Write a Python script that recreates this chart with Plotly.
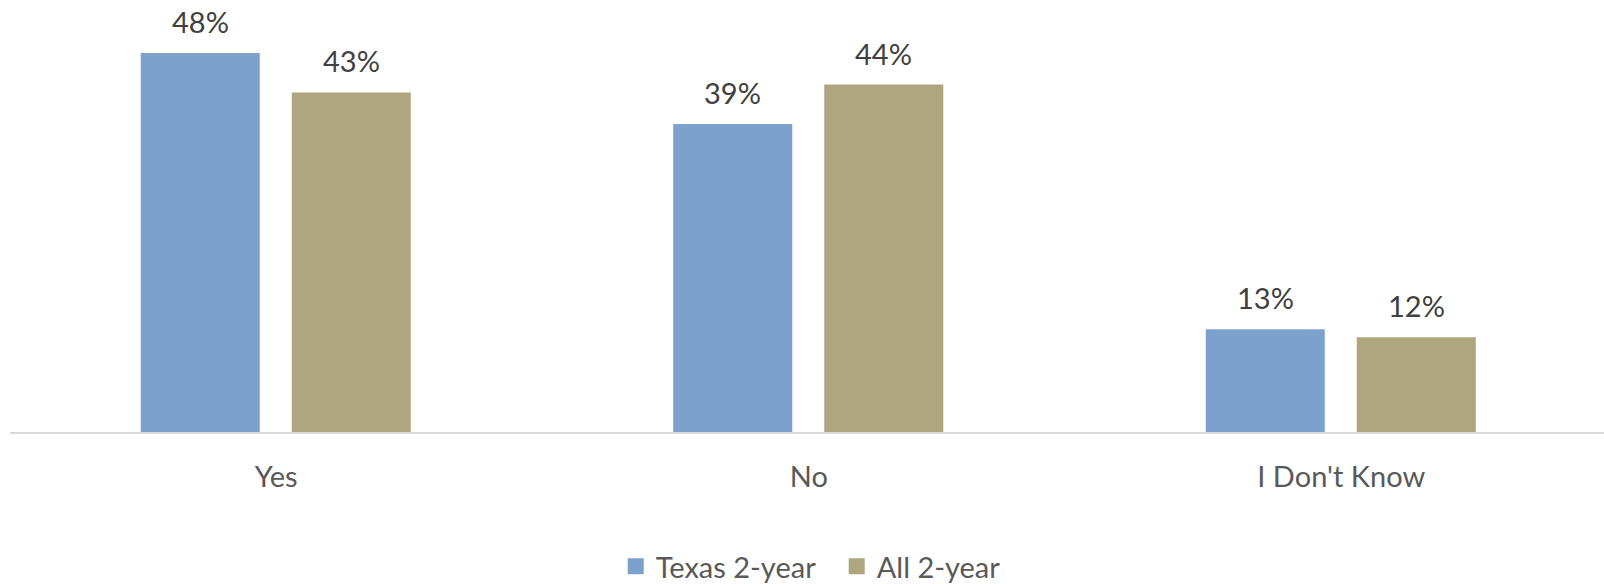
import plotly.graph_objects as go

categories = ["Yes", "No", "I Don't Know"]
texas_2yr = [48, 39, 13]
all_2yr = [43, 44, 12]
series_names = ["Texas 2-year", "All 2-year"]
colors = ["#7BA1CC", "#AEA67E"]

FONT = "Lato"
BAR_W = 0.2235
OFFSETS = [-0.2545, 0.0291]

fig = go.Figure()
x_idx = list(range(len(categories)))
for name, vals, col, off in zip(series_names, [texas_2yr, all_2yr], colors, OFFSETS):
    fig.add_trace(go.Bar(
        x=x_idx, y=vals, width=BAR_W, offset=off, marker=dict(color=col, line=dict(width=0)),
        showlegend=False, hoverinfo="skip"))
    # legend proxy
    fig.add_trace(go.Scatter(
        x=[None], y=[None], mode="markers", name=name,
        marker=dict(symbol="square", size=18, color=col)))
    for i, v in zip(x_idx, vals):
        fig.add_annotation(x=i + off + BAR_W / 2, y=v, text=f"{v}%", showarrow=False,
                           yanchor="bottom", yshift=12,
                           font=dict(family=FONT, size=29, color="#404040"))

fig.update_layout(
    width=1604, height=584,
    margin=dict(l=10, r=0, t=0, b=152, autoexpand=False),
    paper_bgcolor="white", plot_bgcolor="white",
    barmode="overlay",
    font=dict(family=FONT, size=29, color="#595959"),
    legend=dict(orientation="h", x=0.380, xanchor="left", y=-0.252, yanchor="top",
                font=dict(family=FONT, size=29, color="#595959"),
                entrywidth=176, itemsizing="trace"),
    xaxis=dict(tickmode="array", tickvals=x_idx, ticktext=categories,
               range=[-0.5, 2.4934], showgrid=False, zeroline=False, automargin=False,
               showline=True, linecolor="#D9D9D9", linewidth=2, ticks="",
               ticklabelstandoff=18, tickfont=dict(family=FONT, size=29, color="#595959")),
    yaxis=dict(range=[0, 54.7], visible=False, showgrid=False, zeroline=False),
)

fig.write_html("out.html")
